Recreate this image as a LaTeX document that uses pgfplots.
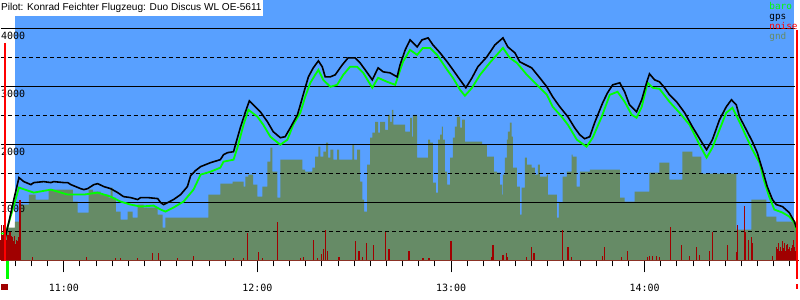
\documentclass[border=0pt]{standalone}
\usepackage{pgfplots}
\pgfplotsset{compat=1.18}
\usepackage{fontspec}
\setmainfont{Liberation Sans}
\newfontfamily\monofont{DejaVu Sans Mono}
\definecolor{bgblue}{RGB}{88,160,255}
\definecolor{gndcol}{RGB}{102,139,102}
\definecolor{noisecol}{RGB}{160,0,0}
\definecolor{barocol}{RGB}{0,255,0}
\begin{document}
\begin{tikzpicture}
\begin{axis}[
 width=800bp, height=300bp, scale only axis,
 xmin=40.5, xmax=287.92, ymin=-672.4, ymax=4499.6,
 enlargelimits=false, clip=false,
 axis x line=middle, axis y line=none,
 x axis line style={-, noisecol, line width=1.5bp},
 xtick={60,120,180,240}, xticklabels={11:00,12:00,13:00,14:00},
 minor xtick={45,50,...,285},
 tick align=outside,
 major tick length=12bp, minor tick length=6bp,
 every tick/.style={black, line width=1bp},
 xticklabel style={font=\monofont\fontsize{10bp}{12bp}\selectfont, anchor=north, inner sep=0pt, yshift=-11bp},
]
\path (axis cs:40.5,-672.4) rectangle (axis cs:287.92,4499.6);
\fill[bgblue] (axis cs:44.83,0) rectangle (axis cs:286.4,4499.6);
\fill[white] (axis cs:40.5,4224) rectangle (axis cs:121.8,4499.6);
% ground
\addplot[const plot, fill=gndcol, draw=none] coordinates {
(42.0,569) (44.8,672) (46.7,965) (49.2,1138) (51.3,1052) (55.3,1224) (62.8,1017) (64.3,828)
(67.7,1224) (69.0,1190) (71.4,1138) (73.9,1086) (74.5,1259) (75.1,1086) (76.1,845) (77.6,707)
(79.8,845) (81.3,741) (82.9,965) (84.7,914) (89.1,793) (90.6,569) (91.5,741) (104.8,1138)
(108.5,1327) (112.3,1362) (115.7,1276) (116.3,1448) (117.2,1483) (118.7,1310) (120.0,1103)
(121.5,1276) (123.1,1707) (124.0,1948) (124.6,1534) (126.2,1086) (127.1,1741)
(133.9,1569) (134.8,1534) (137.0,1603) (137.9,1793) (138.9,1965) (139.5,1793) (140.4,1879)
(141.3,2034) (141.9,1776) (142.6,1914) (143.5,1741) (144.7,1914) (145.3,1741) (149.4,2000)
(150.0,1741) (150.9,1914) (151.8,1362) (152.5,1052) (153.1,845) (154.0,1655) (154.9,2121)
(155.6,2207) (156.5,2396) (157.4,2207) (158.0,2396) (159.6,2258) (160.5,2517) (161.1,2396)
(161.7,2603) (162.1,2345) (163.0,2345) (165.8,2224) (167.3,2465) (167.9,2138) (168.2,2517)
(169.5,1776) (172.9,2086) (173.5,2034) (174.4,1345) (175.3,1172) (176.0,2086) (176.6,2172)
(177.2,2310) (177.5,2086) (178.1,1534) (178.8,1310) (179.7,1776) (180.6,2121) (181.2,2310)
(181.8,2483) (182.8,2293) (183.4,2431) (184.3,2052) (184.9,2052) (189.6,2000) (191.1,1793)
(193.3,1534) (194.2,1517) (195.1,1310) (195.8,1138) (196.1,1483) (196.7,1776) (197.3,2086)
(197.6,2224) (198.2,2379) (198.8,2138) (199.2,1603) (200.4,1276) (201.3,793) (201.9,1259)
(202.9,1776) (203.5,1655) (205.0,1603) (206.0,1483) (206.9,1655) (207.5,1448) (209.7,1483)
(210.0,1138) (212.8,741) (213.4,1000) (214.6,1448) (215.9,1534) (217.4,1827) (217.7,1793)
(218.9,1276) (219.9,1534) (220.8,1534)
(223.0,1569) (232.3,1086) (233.8,1017) (236.9,1190) (241.5,1517) (244.6,1690) (247.7,1396)
(251.7,1879) (254.8,1793) (257.6,1500) (268.4,534) (273.1,1052) (277.7,759) (280.8,672) (287.0,672)
} \closedcycle;
% grid
\draw[black, line width=1bp] (axis cs:40.5,1000) -- (axis cs:286.7,1000);
\draw[black, line width=1bp] (axis cs:40.5,2000) -- (axis cs:286.7,2000);
\draw[black, line width=1bp] (axis cs:40.5,3000) -- (axis cs:286.7,3000);
\draw[black, line width=1bp] (axis cs:40.5,4000) -- (axis cs:286.7,4000);
\draw[black, line width=1bp, dash pattern=on 4bp off 3bp] (axis cs:40.5,500) -- (axis cs:286.7,500);
\draw[black, line width=1bp, dash pattern=on 4bp off 3bp] (axis cs:40.5,1500) -- (axis cs:286.7,1500);
\draw[black, line width=1bp, dash pattern=on 4bp off 3bp] (axis cs:40.5,2500) -- (axis cs:286.7,2500);
\draw[black, line width=1bp, dash pattern=on 4bp off 3bp] (axis cs:40.5,3500) -- (axis cs:286.7,3500);
% y labels
\node[anchor=north west, inner sep=0pt, font=\monofont\fontsize{10bp}{12bp}\selectfont] at (axis cs:40.5,953) {1000};
\node[anchor=north west, inner sep=0pt, font=\monofont\fontsize{10bp}{12bp}\selectfont] at (axis cs:40.5,1953) {2000};
\node[anchor=north west, inner sep=0pt, font=\monofont\fontsize{10bp}{12bp}\selectfont] at (axis cs:40.5,2953) {3000};
\node[anchor=north west, inner sep=0pt, font=\monofont\fontsize{10bp}{12bp}\selectfont] at (axis cs:40.5,3953) {4000};
% noise
\addplot[ycomb, noisecol, line width=1.2bp, mark=none] coordinates {
(40.5,362) (40.8,621) (41.1,448) (41.4,621) (41.7,534) (42.0,569) (42.4,362) (42.7,448)
(43.0,276) (43.3,500) (43.6,362) (43.9,431) (44.2,397) (44.5,328) (44.8,414) (45.1,276)
(45.4,362) (45.8,328) (46.1,397) (46.4,1052)
(50.4,52) (67.1,52) (76.1,34) (77.6,34) (82.9,34) (87.5,121) (89.4,121) (95.2,34) (100.2,69)
(112.6,34) (115.7,34) (116.9,466) (120.3,138) (121.5,34) (126.2,672) (133.3,34) (134.2,52)
(137.3,345) (138.5,34) (139.8,103) (140.4,190) (141.0,534) (141.6,155) (145.3,52) (150.3,328)
(151.5,155) (152.5,52) (153.7,293) (155.9,259) (159.6,500) (160.8,190) (167.0,172) (171.3,34)
(173.2,34) (180.0,328) (192.7,52) (193.0,259) (196.1,86) (197.3,121) (197.6,52) (203.5,52)
(205.0,224) (205.7,121) (214.6,534) (216.2,241) (216.5,241) (217.4,52) (227.0,69) (227.6,241)
(232.9,52) (234.7,155) (240.9,52) (241.5,69) (242.5,69) (243.7,69) (244.6,52) (248.0,586)
(251.4,259) (253.9,69) (256.1,224) (257.0,86) (260.1,155) (261.0,500) (265.7,259) (268.4,138)
(268.7,621) (270.9,948) (271.2,500) (272.2,362) (273.1,397) (273.4,310) (279.6,69)
(280.8,224) (281.1,190) (281.4,310) (281.7,172) (282.1,241) (282.4,155) (282.7,328) (283.0,207)
(283.3,310) (283.6,172) (283.9,259) (284.2,276) (284.5,190) (284.8,241) (285.1,155) (285.4,207)
(285.8,259) (286.1,345) (286.4,224) (286.7,172) (287.0,86)
};
% baro
\addplot[barocol, line width=1.8bp, mark=none] coordinates {
(40.5,466) (42.0,466) (46.1,1259) (50.7,1172) (56.0,1224) (61.2,1138) (66.2,1138) (70.5,1172)
(74.5,1103) (77.6,1017) (80.7,965) (83.8,931) (87.8,948) (90.0,879) (91.5,845) (94.0,914)
(97.1,1017) (100.2,1224) (102.4,1483) (105.5,1534) (108.5,1603) (109.5,1707) (112.6,1741)
(113.8,1948) (115.7,2345) (117.2,2603) (120.0,2483) (121.8,2345) (124.0,2138) (127.1,2000)
(129.3,2086) (131.1,2345) (133.3,2552) (134.8,2827) (136.4,3069) (137.9,3207) (138.9,3293)
(140.4,3120) (142.6,3000) (144.7,3034) (146.6,3207) (148.7,3345) (150.9,3345) (152.8,3241)
(155.6,2983) (157.4,3155) (160.2,3086) (162.7,3034) (165.1,3431) (167.3,3638) (169.5,3551)
(171.3,3672) (173.5,3672) (175.7,3551) (178.8,3293) (180.6,3155) (182.8,2948) (184.3,2845)
(186.5,2983) (189.0,3207) (192.0,3414) (196.1,3672) (198.2,3500) (200.4,3414) (203.5,3207)
(206.6,3034) (209.7,2862) (211.5,2655) (214.3,2483) (216.2,2345) (219.0,2086) (222.0,1965)
(223.9,2121) (226.7,2483) (229.2,2862) (231.6,2914) (233.8,2741) (236.0,2517) (237.5,2465)
(239.1,2655) (240.9,3069) (242.5,2983) (244.6,2965) (247.7,2741) (250.8,2552) (253.9,2345)
(257.0,2000) (259.2,1776) (261.0,1948) (263.2,2258) (265.3,2552) (267.2,2638) (269.4,2396)
(271.5,2138) (273.4,1914) (275.6,1690) (277.1,1362) (278.6,1103) (280.2,879) (282.7,828)
(284.8,759) (286.4,655) (287.3,483)
};
% gps
\addplot[black, line width=1.6bp, mark=none] coordinates {
(41.7,362) (43.0,672) (44.5,1052) (46.1,1431) (47.6,1362) (49.8,1310) (50.7,1345) (53.8,1362)
(56.0,1345) (56.9,1362) (60.0,1345) (61.2,1345) (62.2,1310) (65.2,1241) (66.2,1224) (67.4,1241)
(69.3,1310) (70.5,1327) (72.4,1276) (74.5,1241) (76.7,1172) (78.5,1103) (80.7,1086) (82.9,1052)
(83.8,1086) (86.0,1086) (89.1,1069) (90.0,1000) (90.9,965) (92.2,1000) (94.0,1052) (96.2,1138)
(98.3,1276) (99.3,1465) (100.8,1552) (102.4,1621) (105.5,1690) (108.5,1741) (109.5,1827)
(110.7,1862) (112.6,1879) (113.2,2000) (114.7,2293) (116.3,2569) (117.5,2758) (118.7,2689)
(120.9,2569) (123.1,2396) (124.9,2224) (127.1,2121) (128.6,2138) (130.2,2293) (132.4,2517)
(133.3,2689) (134.8,2983) (135.8,3172) (137.3,3327) (138.9,3448) (140.1,3345) (141.0,3172)
(142.6,3172) (144.1,3207) (146.3,3379) (148.1,3500) (150.3,3500) (151.8,3414) (153.4,3293)
(155.6,3120) (157.4,3327) (159.0,3258) (161.1,3241) (163.3,3172) (164.2,3379) (165.8,3638)
(167.3,3810) (169.5,3689) (171.0,3810) (172.9,3845) (174.4,3724) (176.6,3586) (178.8,3431)
(180.6,3293) (182.8,3120) (184.6,2983) (186.5,3155) (188.3,3345) (191.1,3517) (193.6,3724)
(196.1,3845) (197.6,3689) (199.8,3586) (201.3,3431) (205.0,3327) (207.5,3155) (209.7,3000)
(211.5,2827) (213.7,2655) (216.2,2483) (218.3,2293) (219.9,2172) (221.4,2103) (223.0,2138)
(224.5,2379) (227.0,2724) (228.5,2896) (230.1,3034) (232.3,3069) (233.8,2914) (235.3,2689)
(237.5,2569) (239.1,2776) (240.6,3069) (241.5,3224) (243.1,3120) (244.6,3086) (246.2,2983)
(247.7,2862) (249.9,2741) (252.4,2552) (254.8,2310) (257.6,2052) (259.2,1914) (261.0,2086)
(263.2,2431) (265.3,2655) (266.9,2776) (268.4,2689) (269.4,2483) (271.5,2258) (273.4,2052)
(274.9,1862) (276.5,1569) (278.0,1276) (279.6,1052) (280.8,965) (282.7,931) (284.8,828)
(286.4,672) (287.0,569)
};
% markers
\draw[red, line width=2bp] (axis cs:41.74,3758) -- (axis cs:41.74,-17);
\draw[red, line width=2.5bp] (axis cs:287.2,3982) -- (axis cs:287.2,-328);
\draw[red, line width=2.5bp] (axis cs:287.2,-414) -- (axis cs:287.2,-500);
\fill[barocol] (axis cs:42.05,-17) rectangle (axis cs:42.9,-328);
\fill[noisecol] (axis cs:40.5,-414) rectangle (axis cs:42.6,-517);
% title
\node[anchor=base west, inner sep=0pt, font=\fontsize{10.1bp}{12bp}\selectfont] at (axis cs:40.5,4324) {Pilot: Konrad Feichter Flugzeug: Duo Discus WL OE-5611};
% legend
\node[anchor=base west, inner sep=0pt, text=barocol, font=\monofont\fontsize{9.4bp}{11bp}\selectfont] at (axis cs:278.6,4327) {baro};
\node[anchor=base west, inner sep=0pt, text=black, font=\monofont\fontsize{9.4bp}{11bp}\selectfont] at (axis cs:278.6,4155) {gps};
\node[anchor=base west, inner sep=0pt, text=red, font=\monofont\fontsize{9.4bp}{11bp}\selectfont] at (axis cs:278.6,3990) {noise};
\node[anchor=base west, inner sep=0pt, text=gndcol, font=\monofont\fontsize{9.4bp}{11bp}\selectfont] at (axis cs:278.6,3820) {gnd};
\end{axis}
\end{tikzpicture}
\end{document}
